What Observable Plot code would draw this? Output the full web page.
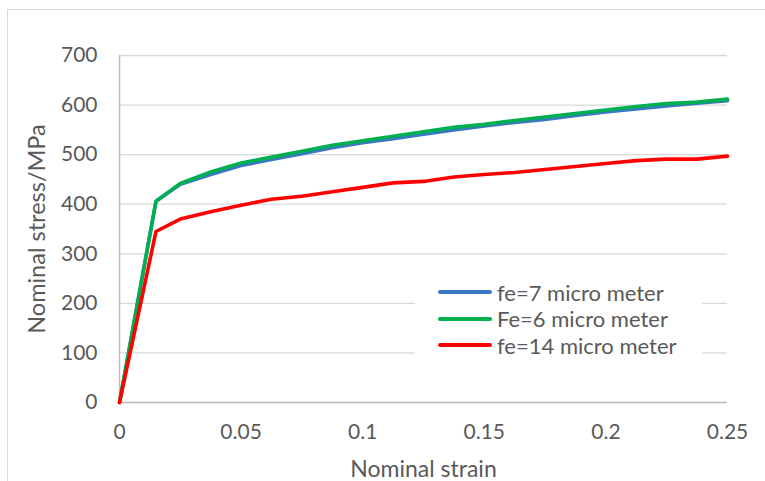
<!DOCTYPE html>
<html><head><meta charset="utf-8">
<script src="https://cdn.jsdelivr.net/npm/d3@7"></script>
<script src="https://cdn.jsdelivr.net/npm/@observablehq/plot@0.6"></script>
<style>
body{margin:0;background:#fff;font-family:Lato,"Open Sans",sans-serif;}
#wrap{position:relative;width:765px;height:481px;overflow:hidden;}
#border{position:absolute;left:7px;top:9px;width:800px;height:600px;border:1px solid #d9d9d9;box-sizing:border-box;}
#legend{position:absolute;left:415px;top:279px;width:287px;height:80px;background:#fff;padding-left:23px;padding-top:0px;box-sizing:border-box;}
.li{display:flex;align-items:center;height:26.5px;font-size:22px;color:#595959;white-space:nowrap;}
.sw{width:54px;height:4px;border-radius:2px;margin-right:5px;flex:none;}
</style></head>
<body><div id="wrap"><div id="border"></div><div id="chart"></div><div id="legend"></div></div>
<script>
const strain = [0, 0.015, 0.025, 0.0375, 0.05, 0.0625, 0.075, 0.0875, 0.1, 0.1125, 0.125, 0.1375, 0.15, 0.1625, 0.175, 0.1875, 0.2, 0.2125, 0.225, 0.2375, 0.25];
const fe7  = [0, 406, 440, 460, 478, 490, 502, 514, 524, 532, 541, 550, 558, 565, 571, 579, 586, 592, 598, 604, 609];
const fe6  = [0, 406, 442, 465, 483, 495, 507, 519, 528, 537, 546, 555, 561, 569, 576, 583, 590, 597, 603, 606, 612];
const fe14 = [0, 345, 370, 385, 398, 410, 416, 425, 434, 443, 446, 455, 460, 464, 470, 476, 482, 488, 491, 491, 497];
const seriesNames = ["fe=7 micro meter", "Fe=6 micro meter", "fe=14 micro meter"];
const seriesColors = ["#3a78c4", "#00b050", "#ff0000"];
const xTicks = [0, 0.05, 0.1, 0.15, 0.2, 0.25];
const yTicks = [0, 100, 200, 300, 400, 500, 600, 700];

const allSeries = [fe7, fe6, fe14];
const rows = allSeries.flatMap((vals, i) => vals.map((v, j) => ({x: strain[j], y: v, s: seriesNames[i]})));

const chart = Plot.plot({
  width: 765, height: 481,
  marginLeft: 119, marginRight: 38, marginTop: 55, marginBottom: 79,
  style: {fontFamily: "Lato, 'Open Sans', sans-serif", fontSize: "21px", color: "#595959", background: "transparent"},
  x: {domain: [0, 0.25], ticks: xTicks, tickFormat: d => String(d), label: null},
  y: {domain: [0, 700], ticks: yTicks, label: null},
  color: {domain: seriesNames, range: seriesColors},
  marks: [
    Plot.gridY(yTicks, {stroke: "#d9d9d9", strokeOpacity: 1, strokeWidth: 1.3}),
    Plot.ruleY([0], {stroke: "#bfbfbf", strokeWidth: 1.5}),
    Plot.ruleX([0], {stroke: "#bfbfbf", strokeWidth: 1.5}),
    Plot.axisY({ticks: yTicks, tickSize: 0, tickPadding: 22, fill: "#595959", label: null, fontSize: 21}),
    Plot.axisX({ticks: xTicks, tickSize: 0, tickPadding: 22, fill: "#595959", label: null, fontSize: 21, tickFormat: d => String(d)}),
    Plot.line(rows, {x: "x", y: "y", z: "s", stroke: "s", strokeWidth: 3.6, strokeLinejoin: "round", strokeLinecap: "round"}),
    Plot.text(["Nominal strain"], {frameAnchor: "bottom", dy: 74, text: d => d, fill: "#595959", fontSize: 23}),
    Plot.text(["Nominal stress/MPa"], {frameAnchor: "left", dx: -82, rotate: -90, textAnchor: "middle", text: d => d, fill: "#595959", fontSize: 23.5})
  ]
});
document.getElementById("chart").append(chart);

const lg = document.getElementById("legend");
seriesNames.forEach((n, i) => {
  const d = document.createElement("div"); d.className = "li";
  const s = document.createElement("div"); s.className = "sw"; s.style.background = seriesColors[i];
  d.append(s, document.createTextNode(n)); lg.append(d);
});
</script></body></html>
